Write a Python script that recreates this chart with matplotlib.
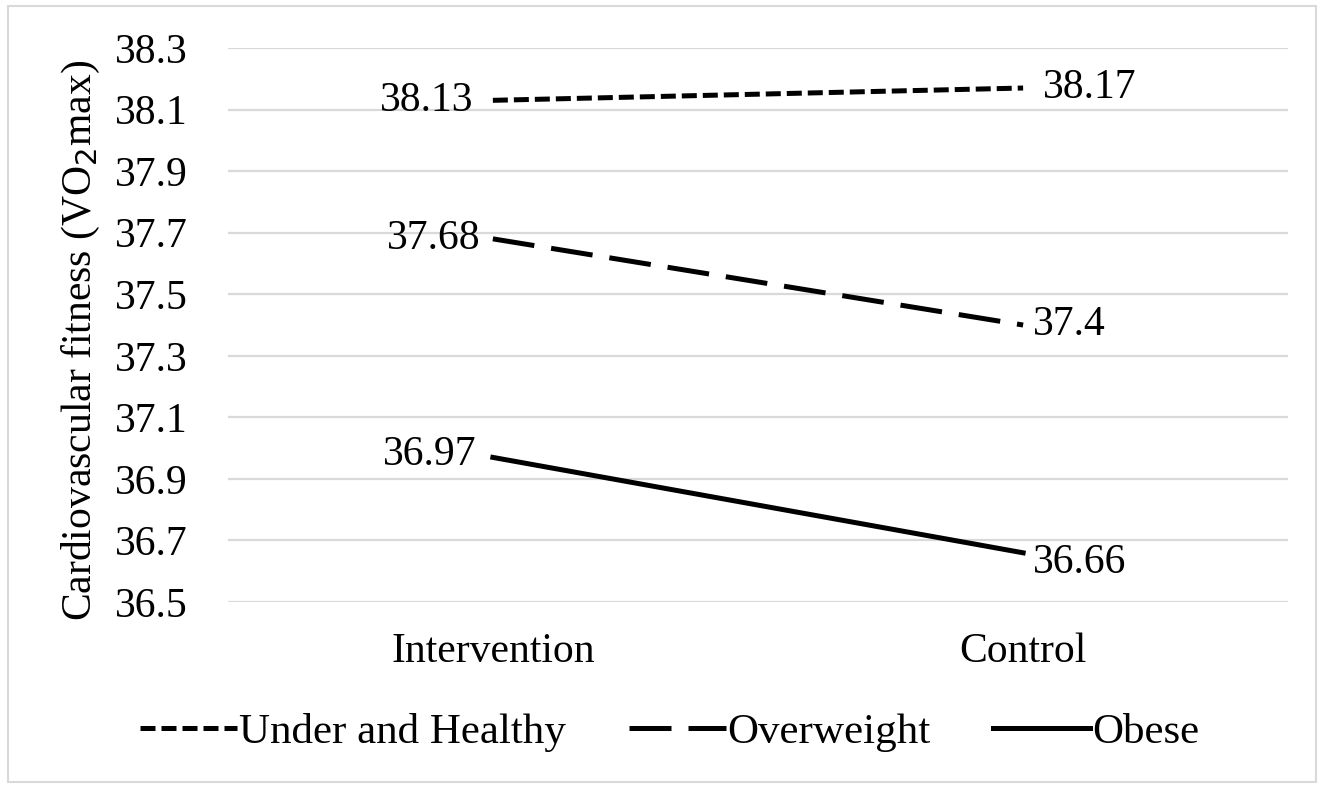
import matplotlib.pyplot as plt
from matplotlib.patches import Rectangle

groups = ['Intervention', 'Control']
under_healthy = [38.13, 38.17]
overweight = [37.68, 37.4]
obese = [36.97, 36.66]
yticks = [36.5, 36.7, 36.9, 37.1, 37.3, 37.5, 37.7, 37.9, 38.1, 38.3]

plt.rcParams['font.family'] = ['Liberation Serif', 'DejaVu Serif']

fig = plt.figure(figsize=(13.24, 7.87), dpi=100)
ax = fig.add_axes([0.172, 0.235, 0.801, 0.704])

x = list(range(len(groups)))
lw = 3.6
ax.plot(x, under_healthy, color='black', lw=lw, dashes=(3.0, 1.2), label='Under and Healthy')
ax.plot(x, overweight, color='black', lw=lw, dashes=(8.4, 3.4), label='Overweight')
ax.plot(x, obese, color='black', lw=lw, label='Obese')

# data labels: left of first point, right of second (offsets in points)
offsets = [((-14, 0), (14, 0)), ((-9, 0), (7, 0)), ((-12, 2), (7, -7))]
for series, (off0, off1) in zip((under_healthy, overweight, obese), offsets):
    ax.annotate(f'{series[0]:g}', (0, series[0]), xytext=off0,
                textcoords='offset points', ha='right', va='center', fontsize=30)
    ax.annotate(f'{series[1]:g}', (1, series[1]), xytext=off1,
                textcoords='offset points', ha='left', va='center', fontsize=30)

ax.set_xlim(-0.5, 1.5)
ax.set_ylim(36.5, 38.3)
ax.set_yticks(yticks)
ax.set_yticklabels([f'{v:.1f}' for v in yticks])
ax.set_xticks(x)
ax.set_xticklabels(groups)
ax.tick_params(axis='y', length=0, pad=29, labelsize=30)
ax.tick_params(axis='x', length=0, pad=22, labelsize=30)
ax.grid(axis='y', color='#d9d9d9', lw=1.6)
ax.set_axisbelow(True)
for s in ax.spines.values():
    s.set_visible(False)

ax.set_ylabel('Cardiovascular fitness (VO$_2$max)', fontsize=30)
ax.yaxis.set_label_coords(-0.119, 0.473)

ax.legend(loc='center', bbox_to_anchor=(0.506, 0.069), bbox_transform=fig.transFigure,
          ncol=3, frameon=False, fontsize=31,
          handlelength=2.25, handletextpad=0.05, columnspacing=1.45)

fig.patches.append(Rectangle((0.006, 0.006), 0.988, 0.986, transform=fig.transFigure,
                             fill=False, edgecolor='#d9d9d9', lw=1.5))

fig.savefig('out.png', dpi=100)
